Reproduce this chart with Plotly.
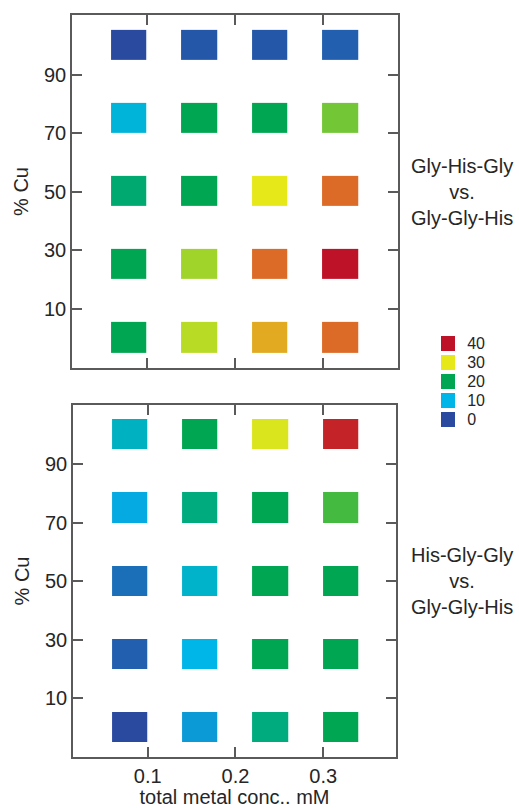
import plotly.graph_objects as go

# Grid of measurement conditions
conc_mM = [0.08, 0.16, 0.24, 0.32]          # total metal concentration, mM
cu_pct = [0, 25, 50, 75, 100]               # % Cu, one row per value

# Signal level per cell (rows follow cu_pct, columns follow conc_mM)
gly_his_gly = [
    [20, 28, 32.5, 35],
    [20, 27, 35, 40],
    [18, 20, 30, 35],
    [11, 20, 20, 25],
    [0, 1.2, 1.2, 2],
]
his_gly_gly = [
    [0, 7.5, 17, 20],
    [2, 10, 20, 20],
    [3.5, 12, 20, 20],
    [9, 17, 20, 23],
    [12.5, 20, 29.5, 39],
]

# Colour key levels and axis ticks
key_levels = [0, 10, 20, 30, 40]
x_ticks = [0.1, 0.2, 0.3]
x_tick_text = ["0.1", "0.2", "0.3"]
y_ticks = [10, 30, 50, 70, 90]

panel_labels = ["Gly-His-Gly<br>vs.<br>Gly-Gly-His",
                "His-Gly-Gly<br>vs.<br>Gly-Gly-His"]

W, H = 519, 808
FONT = "Liberation Sans, Arial, sans-serif"
TXT = "#262626"
LINE = "#5a5a5a"
FS = 20

scale = [
    [0.0, "#2a4aa0"],
    [0.25, "#00b5e8"],
    [0.5, "#00a651"],
    [0.75, "#e6e81a"],
    [0.875, "#db6b27"],
    [1.0, "#be1228"],
]


def px_x(a, b):
    return [a / W, b / W]


def px_y(top, bottom):
    return [1 - bottom / H, 1 - top / H]


fig = go.Figure()

for z, xa, ya in [(gly_his_gly, "x", "y"), (his_gly_gly, "x2", "y2")]:
    fig.add_trace(go.Heatmap(
        x=conc_mM, y=cu_pct, z=z,
        zmin=0, zmax=40, colorscale=scale, showscale=False,
        xgap=34.8, ygap=43, xaxis=xa, yaxis=ya,
        hovertemplate="%{x} mM, %{y}% Cu: %{z}<extra></extra>",
    ))

# Colour key drawn as a one-column heatmap
fig.add_trace(go.Heatmap(
    x=[0], y=key_levels, z=[[v] for v in key_levels],
    zmin=0, zmax=40, colorscale=scale, showscale=False,
    ygap=4, xaxis="x3", yaxis="y3", hoverinfo="skip",
))

frame = dict(
    showline=True, linecolor=LINE, linewidth=1.5, mirror="ticks",
    ticks="inside", ticklen=10, tickwidth=1.5, tickcolor=LINE,
    showgrid=False, zeroline=False,
    tickfont=dict(family=FONT, size=FS, color=TXT),
)

fig.update_layout(
    width=W, height=H, autosize=False,
    margin=dict(l=0, r=0, t=0, b=0),
    paper_bgcolor="white", plot_bgcolor="white",
    font=dict(family=FONT, color=TXT),
    showlegend=False,
    xaxis=dict(frame, domain=px_x(72, 398), range=[0.015, 0.385], anchor="y",
               tickvals=x_ticks, showticklabels=False),
    yaxis=dict(frame, domain=px_y(15, 368), range=[-10.3, 110.4], anchor="x",
               tickvals=y_ticks,
               title=dict(text="% Cu", font=dict(family=FONT, size=FS, color=TXT),
                          standoff=10)),
    xaxis2=dict(frame, domain=px_x(73, 396), range=[0.0149, 0.383], anchor="y2",
                tickvals=x_ticks, ticktext=x_tick_text,
                title=dict(text="total metal conc.. mM",
                           font=dict(family=FONT, size=FS, color=TXT), standoff=3)),
    yaxis2=dict(frame, domain=px_y(405, 757), range=[-10.0, 110.1], anchor="x2",
                tickvals=y_ticks,
                title=dict(text="% Cu", font=dict(family=FONT, size=FS, color=TXT),
                           standoff=10)),
    xaxis3=dict(domain=px_x(441, 455), range=[-0.5, 0.5], anchor="y3",
                visible=False, fixedrange=True),
    yaxis3=dict(domain=px_y(334, 429), range=[-5, 45], anchor="x3", side="right",
                tickvals=key_levels, ticks="outside", ticklen=8,
                tickcolor="rgba(0,0,0,0)", showline=False, showgrid=False,
                zeroline=False, fixedrange=True,
                tickfont=dict(family=FONT, size=16, color=TXT)),
)

for label, yc in zip(panel_labels, [191.5, 581]):
    fig.add_annotation(
        text=label, xref="paper", yref="paper",
        x=462 / W, y=1 - yc / H, xanchor="center", yanchor="middle",
        showarrow=False, align="center",
        font=dict(family=FONT, size=FS, color=TXT),
    )

fig.write_html("out.html")
